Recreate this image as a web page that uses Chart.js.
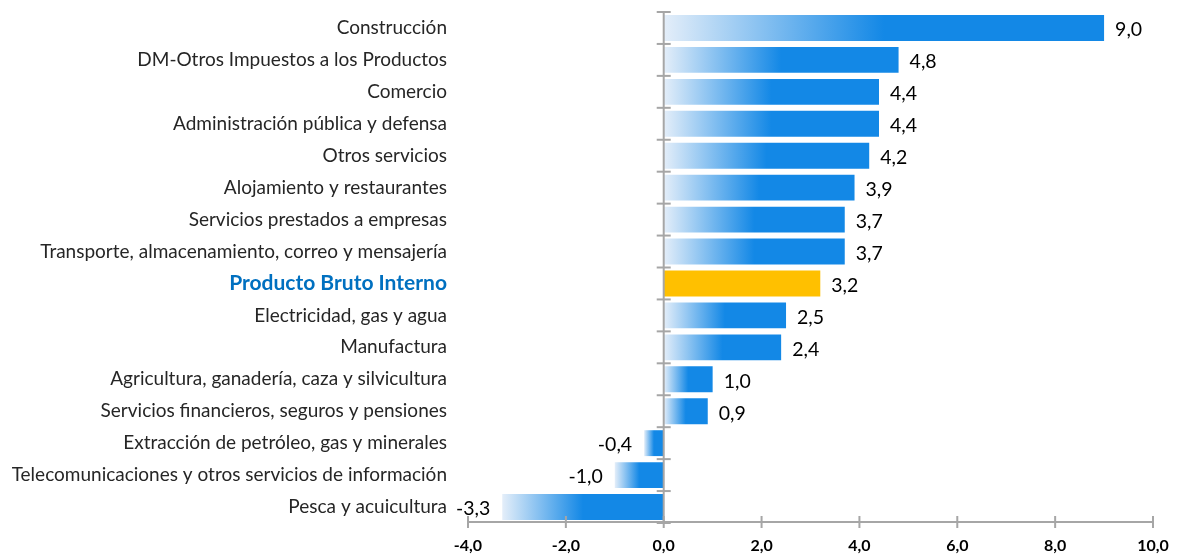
<!DOCTYPE html>
<html><head><meta charset="utf-8">
<script src="https://cdn.jsdelivr.net/npm/chart.js@4/dist/chart.umd.min.js"></script>
<style>html,body{margin:0;padding:0;background:#fff}#w{width:1178px;height:555px;position:relative}</style>
</head><body><div id="w"><canvas id="c"></canvas></div>
<script>
const categories = ["Construcción","DM-Otros Impuestos a los Productos","Comercio","Administración pública y defensa","Otros servicios","Alojamiento y restaurantes","Servicios prestados a empresas","Transporte, almacenamiento, correo y mensajería","Producto Bruto Interno","Electricidad, gas y agua","Manufactura","Agricultura, ganadería, caza y silvicultura","Servicios financieros, seguros y pensiones","Extracción de petróleo, gas y minerales","Telecomunicaciones y otros servicios de información","Pesca y acuicultura"];
const values = [9.0,4.8,4.4,4.4,4.2,3.9,3.7,3.7,3.2,2.5,2.4,1.0,0.9,-0.4,-1.0,-3.3];
const highlight = "Producto Bruto Interno";
const xTicks = [-4,-2,0,2,4,6,8,10];

const BLUE = "#1388e6", LIGHT = "#e4eef9", GOLD = "#ffc000", AXIS = "#a6a6a6";
const fmt = v => v.toFixed(1).replace('.', ',');

const gradPlugin = {
  id: 'grad',
  beforeDatasetsDraw(chart) {
    const ctx = chart.ctx;
    chart.getDatasetMeta(0).data.forEach((el, i) => {
      if (categories[i] === highlight) { el.options.backgroundColor = GOLD; return; }
      const l = Math.min(el.x, el.base), r = Math.max(el.x, el.base);
      const g = ctx.createLinearGradient(l, 0, r, 0);
      g.addColorStop(0, LIGHT); g.addColorStop(0.5, BLUE); g.addColorStop(1, BLUE);
      el.options.backgroundColor = g;
    });
  },
  afterDatasetsDraw(chart) {
    const ctx = chart.ctx, xs = chart.scales.x, ys = chart.scales.y, area = chart.chartArea;
    const x0 = xs.getPixelForValue(0);
    ctx.save();
    ctx.strokeStyle = AXIS; ctx.lineWidth = 2;
    ctx.beginPath(); ctx.moveTo(x0, area.top); ctx.lineTo(x0, area.bottom); ctx.stroke();
    const band = ys.getPixelForValue(1) - ys.getPixelForValue(0);
    for (let i = 0; i <= categories.length; i++) {
      const y = ys.getPixelForValue(i) - band / 2;
      ctx.beginPath(); ctx.moveTo(x0 - 7, y); ctx.lineTo(x0 + 7, y); ctx.stroke();
    }
    ctx.beginPath(); ctx.moveTo(area.left, area.bottom - 1); ctx.lineTo(area.right, area.bottom - 1); ctx.stroke();
    xTicks.forEach(t => {
      const x = xs.getPixelForValue(t);
      ctx.beginPath(); ctx.moveTo(x, area.bottom - 7); ctx.lineTo(x, area.bottom + 5); ctx.stroke();
    });
    ctx.fillStyle = "#000"; ctx.font = "19.5px Lato"; ctx.textBaseline = "middle";
    chart.getDatasetMeta(0).data.forEach((el, i) => {
      const v = values[i];
      if (v >= 0) { ctx.textAlign = "left"; ctx.fillText(fmt(v), el.x + 11, el.y + 2); }
      else { ctx.textAlign = "right"; ctx.fillText(fmt(v), el.x - 12, el.y + 2); }
    });
    ctx.restore();
  }
};

new Chart(document.getElementById('c'), {
  type: 'bar',
  data: { labels: categories, datasets: [{ data: values, backgroundColor: () => BLUE, categoryPercentage: 1, barPercentage: 0.81 }] },
  options: {
    indexAxis: 'y', responsive: true, maintainAspectRatio: false, animation: false,
    layout: { padding: { top: 12, right: 25, left: 0, bottom: 0 } },
    plugins: { legend: { display: false }, tooltip: { enabled: false } },
    scales: {
      x: {
        min: -4, max: 10,
        afterBuildTicks: s => { s.ticks = xTicks.map(v => ({ value: v })); },
        afterFit: s => { s.height = 32; s.paddingLeft = 0; s.paddingRight = 0; },
        grid: { display: false, drawOnChartArea: false, drawTicks: false },
        border: { display: false },
        ticks: { padding: 13, color: "#000", font: { family: "Lato", size: 16, weight: "bold" }, callback: v => fmt(v), maxRotation: 0 }
      },
      y: {
        afterFit: s => { s.width = 468; s.paddingTop = 0; s.paddingBottom = 0; },
        grid: { display: false, drawTicks: false },
        border: { display: false },
        ticks: {
          padding: 21, autoSkip: false,
          color: ctx => categories[ctx.index] === highlight ? "#0070c0" : "#262626",
          font: ctx => categories[ctx.index] === highlight ? { family: "Lato", size: 21, weight: "bold" } : { family: "Lato", size: 19 }
        }
      }
    }
  },
  plugins: [gradPlugin]
});
</script></body></html>
